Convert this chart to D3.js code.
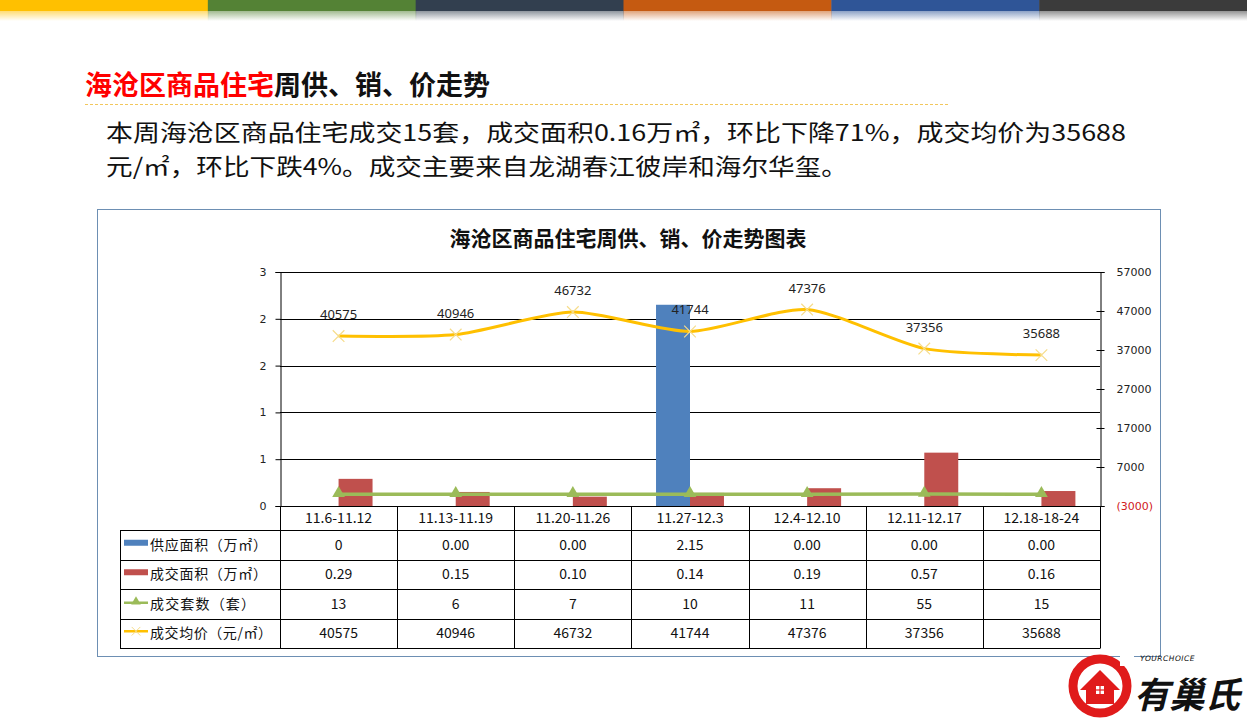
<!DOCTYPE html>
<html><head><meta charset="utf-8">
<script src="https://cdn.jsdelivr.net/npm/d3@7/dist/d3.min.js"></script>
<style>
html,body{margin:0;padding:0;background:#fff;}
svg{display:block;font-family:"Noto Sans CJK SC","Noto Sans",sans-serif;}
</style></head>
<body>
<svg id="c" width="1247" height="718"></svg>
<script>
// ---- data ----
const categories = ["11.6-11.12","11.13-11.19","11.20-11.26","11.27-12.3","12.4-12.10","12.11-12.17","12.18-18-24"];
const supplyArea = [0, 0, 0, 2.15, 0, 0, 0];
const supplyText = ["0","0.00","0.00","2.15","0.00","0.00","0.00"];
const dealArea = [0.29, 0.15, 0.10, 0.14, 0.19, 0.57, 0.16];
const dealUnits = [13, 6, 7, 10, 11, 55, 15];
const avgPrice = [40575, 40946, 46732, 41744, 47376, 37356, 35688];
const leftTicks = [0, 0.5, 1, 1.5, 2, 2.5];
const rightTicks = [-3000, 7000, 17000, 27000, 37000, 47000, 57000];
const seriesNames = ["供应面积（万㎡）","成交面积（万㎡）","成交套数（套）","成交均价（元/㎡）"];
const headerColors = ["#ffc000","#548235","#323f4f","#c55a11","#2f5597","#3b3b3b"];

const svg = d3.select("#c");
const defs = svg.append("defs");

// ---- top color bars ----
headerColors.forEach((c,i)=>{
  const g = defs.append("linearGradient").attr("id","hg"+i).attr("x1",0).attr("x2",0).attr("y1",0).attr("y2",1);
  g.append("stop").attr("offset","0").attr("stop-color",c).attr("stop-opacity",0.55);
  g.append("stop").attr("offset","1").attr("stop-color",c).attr("stop-opacity",0);
});
const segW = 1247/headerColors.length;
headerColors.forEach((c,i)=>{
  svg.append("rect").attr("x",i*segW).attr("y",0).attr("width",segW+0.5).attr("height",11).attr("fill",c);
  svg.append("rect").attr("x",i*segW).attr("y",11).attr("width",segW+0.5).attr("height",10).attr("fill","url(#hg"+i+")");
});

// ---- page title ----
const t = svg.append("text").attr("x",85).attr("y",95).attr("font-size",27).attr("font-weight","bold");
t.append("tspan").attr("fill","#ff0000").text("海沧区商品住宅");
t.append("tspan").attr("fill","#111").text("周供、销、价走势");
svg.append("line").attr("x1",85).attr("x2",948).attr("y1",104.5).attr("y2",104.5)
  .attr("stroke","#f2c75c").attr("stroke-width",1).attr("stroke-dasharray","3,2");

svg.append("text").attr("font-size",23).attr("fill","#111").attr("x",106).attr("y",141)
  .attr("textLength",1020).attr("lengthAdjust","spacingAndGlyphs")
  .text("本周海沧区商品住宅成交15套，成交面积0.16万㎡，环比下降71%，成交均价为35688");
svg.append("text").attr("font-size",23).attr("fill","#111").attr("x",106).attr("y",175)
  .attr("textLength",742).attr("lengthAdjust","spacingAndGlyphs")
  .text("元/㎡，环比下跌4%。成交主要来自龙湖春江彼岸和海尔华玺。");

// ---- chart frame ----
svg.append("rect").attr("x",97.5).attr("y",209.5).attr("width",1063).attr("height",447)
  .attr("fill","#fff").attr("stroke","#6d8fb3").attr("stroke-width",1);
svg.append("text").attr("x",628).attr("y",246).attr("text-anchor","middle").attr("font-size",21)
  .attr("font-weight","bold").attr("fill","#111").text("海沧区商品住宅周供、销、价走势图表");

// ---- scales ----
const L = 280, R = 1100, T = 272, B = 506;
const x = d3.scaleBand().domain(categories).range([L, R]);
const bw = x.bandwidth();
const yL = d3.scaleLinear().domain([0, 2.5]).range([B, T]);
const yR = d3.scaleLinear().domain([-3000, 57000]).range([B, T]);
const cx = c => x(c) + bw/2;
const barW = bw * 0.29;

// gridlines
svg.append("g").selectAll("line").data(leftTicks).join("line")
  .attr("x1",L).attr("x2",R).attr("y1",d=>Math.round(yL(d))+0.5).attr("y2",d=>Math.round(yL(d))+0.5)
  .attr("stroke","#000").attr("stroke-width",1);

// left axis
const axL = svg.append("g").attr("transform",`translate(${L+0.5},0)`)
  .call(d3.axisLeft(yL).tickValues(leftTicks).tickSize(5).tickPadding(9).tickFormat(d=>Math.round(d)));
axL.select(".domain").attr("stroke","#000");
axL.selectAll("text").attr("font-family","'DejaVu Sans',sans-serif").attr("font-size",11).attr("fill","#222");

// right axis
const axR = svg.append("g").attr("transform",`translate(${R+0.5},0)`)
  .call(d3.axisRight(yR).tickValues(rightTicks).tickSize(4).tickPadding(12)
    .tickFormat(d=> d<0 ? "(" + Math.abs(d) + ")" : String(d)));
axR.select(".domain").attr("stroke","#000");
axR.selectAll(".tick line").attr("x1",-4).attr("stroke","#000");
axR.selectAll("text").attr("font-family","'DejaVu Sans',sans-serif").attr("font-size",11)
  .attr("fill",d=> d<0 ? "#d02020" : "#222");

// bars
svg.append("g").selectAll("rect").data(categories).join("rect")
  .attr("x",c=>cx(c)-barW).attr("width",barW)
  .attr("y",(c,i)=>yL(supplyArea[i])).attr("height",(c,i)=>B-yL(supplyArea[i]))
  .attr("fill","#4f81bd");
svg.append("g").selectAll("rect").data(categories).join("rect")
  .attr("x",c=>cx(c)).attr("width",barW)
  .attr("y",(c,i)=>yL(dealArea[i])).attr("height",(c,i)=>B-yL(dealArea[i]))
  .attr("fill","#c0504d");

// units line (right axis)
const unitPts = categories.map((c,i)=>[cx(c), yR(dealUnits[i])]);
svg.append("path").attr("d",d3.line()(unitPts)).attr("fill","none").attr("stroke","#9bbb59").attr("stroke-width",3.5);
const tri = d3.symbol().type(d3.symbolTriangle).size(70);
svg.append("g").selectAll("path").data(unitPts).join("path")
  .attr("transform",d=>`translate(${d[0]},${d[1]-1})`).attr("d",tri()).attr("fill","#9bbb59");

// price line
const pricePts = categories.map((c,i)=>[cx(c), yR(avgPrice[i])]);
svg.append("path").attr("d",d3.line().curve(d3.curveCardinal.tension(0.3))(pricePts))
  .attr("fill","none").attr("stroke","#ffc000").attr("stroke-width",3);
const cross = d3.symbol().type(d3.symbolX).size(90);
svg.append("g").selectAll("path").data(pricePts).join("path")
  .attr("transform",d=>`translate(${d[0]},${d[1]})`).attr("d",cross())
  .attr("fill","none").attr("stroke","#f6dc8a").attr("stroke-width",1.2);
svg.append("g").selectAll("text").data(categories).join("text")
  .attr("x",c=>cx(c)).attr("y",(c,i)=>yR(avgPrice[i])-17).attr("text-anchor","middle")
  .attr("font-family","'Noto Sans',sans-serif").attr("font-size",13).attr("fill","#222")
  .text((c,i)=>avgPrice[i]);

// ---- data table ----
const rowTop = 530, rowH = 29.5, labL = 120;
const tbl = svg.append("g").attr("stroke","#000").attr("stroke-width",1);
const bounds = categories.map(c=>x(c)).concat([R]);
tbl.selectAll("line.v").data(bounds).join("line").attr("class","v")
  .attr("x1",d=>Math.round(d)+0.5).attr("x2",d=>Math.round(d)+0.5).attr("y1",B).attr("y2",rowTop+4*rowH);
tbl.append("line").attr("x1",labL+0.5).attr("x2",labL+0.5).attr("y1",rowTop).attr("y2",rowTop+4*rowH);
d3.range(5).forEach(k=>{
  const y = Math.round(rowTop + k*rowH)+0.5;
  tbl.append("line").attr("x1",labL).attr("x2",R+0.5).attr("y1",y).attr("y2",y);
});
svg.append("g").selectAll("text").data(categories).join("text")
  .attr("x",c=>cx(c)).attr("y",523).attr("text-anchor","middle").attr("font-size",14).attr("fill","#111")
  .text(c=>c);
const labelWidths = [117, 117, 105, 122];
const rowsText = [supplyText, dealArea.map(d=>d.toFixed(2)), dealUnits.map(String), avgPrice.map(String)];
rowsText.forEach((row,r)=>{
  const yc = rowTop + r*rowH + rowH/2;
  svg.append("g").selectAll("text").data(categories).join("text")
    .attr("x",c=>cx(c)).attr("y",yc+5).attr("text-anchor","middle").attr("font-size",14).attr("fill","#111")
    .text((c,i)=>row[i]);
  svg.append("text").attr("x",150).attr("y",yc+5).attr("font-size",14).attr("fill","#111")
    .attr("textLength",labelWidths[r]).attr("lengthAdjust","spacing").text(seriesNames[r]);
});
// legend keys
const k0 = rowTop + rowH/2;
svg.append("rect").attr("x",124).attr("y",k0-5).attr("width",24).attr("height",6).attr("fill","#4f81bd");
svg.append("rect").attr("x",124).attr("y",k0+rowH-5).attr("width",24).attr("height",6).attr("fill","#c0504d");
svg.append("line").attr("x1",124).attr("x2",148).attr("y1",k0+2*rowH-1).attr("y2",k0+2*rowH-1).attr("stroke","#9bbb59").attr("stroke-width",2.5);
svg.append("path").attr("transform",`translate(136,${k0+2*rowH-2})`).attr("d",d3.symbol().type(d3.symbolTriangle).size(40)()).attr("fill","#9bbb59");
svg.append("line").attr("x1",124).attr("x2",148).attr("y1",k0+3*rowH-2).attr("y2",k0+3*rowH-2).attr("stroke","#ffc000").attr("stroke-width",2.5);
svg.append("path").attr("transform",`translate(136,${k0+3*rowH-2})`).attr("d",d3.symbol().type(d3.symbolX).size(50)()).attr("fill","none").attr("stroke","#f6dc8a");

// ---- logo ----
const lg = svg.append("g");
lg.append("circle").attr("cx",1100).attr("cy",686).attr("r",27).attr("fill","none").attr("stroke","#e01b1b").attr("stroke-width",9);
lg.append("rect").attr("x",1120).attr("y",652).attr("width",14).attr("height",14).attr("fill","#fff");
lg.append("path").attr("d","M1080,690 L1100,670 L1120,690 L1114,690 L1114,704 L1086,704 L1086,690 Z").attr("fill","#e01b1b");
lg.append("rect").attr("x",1096).attr("y",686).attr("width",8).attr("height",8).attr("fill","#fff");
lg.append("line").attr("x1",1100).attr("x2",1100).attr("y1",686).attr("y2",694).attr("stroke","#e01b1b").attr("stroke-width",1.2);
lg.append("line").attr("x1",1096).attr("x2",1104).attr("y1",690).attr("y2",690).attr("stroke","#e01b1b").attr("stroke-width",1.2);
lg.append("text").attr("x",1140).attr("y",661).attr("font-family","'DejaVu Sans',sans-serif").attr("font-size",7.5)
  .attr("font-style","italic").attr("fill","#111").attr("letter-spacing","0.5").text("YOURCHOICE");
lg.append("text").attr("x",1134).attr("y",708).attr("font-size",36).attr("font-weight","bold").attr("font-style","italic")
  .attr("fill","#111").attr("textLength",106).attr("lengthAdjust","spacingAndGlyphs").text("有巢氏");
</script>
</body></html>
